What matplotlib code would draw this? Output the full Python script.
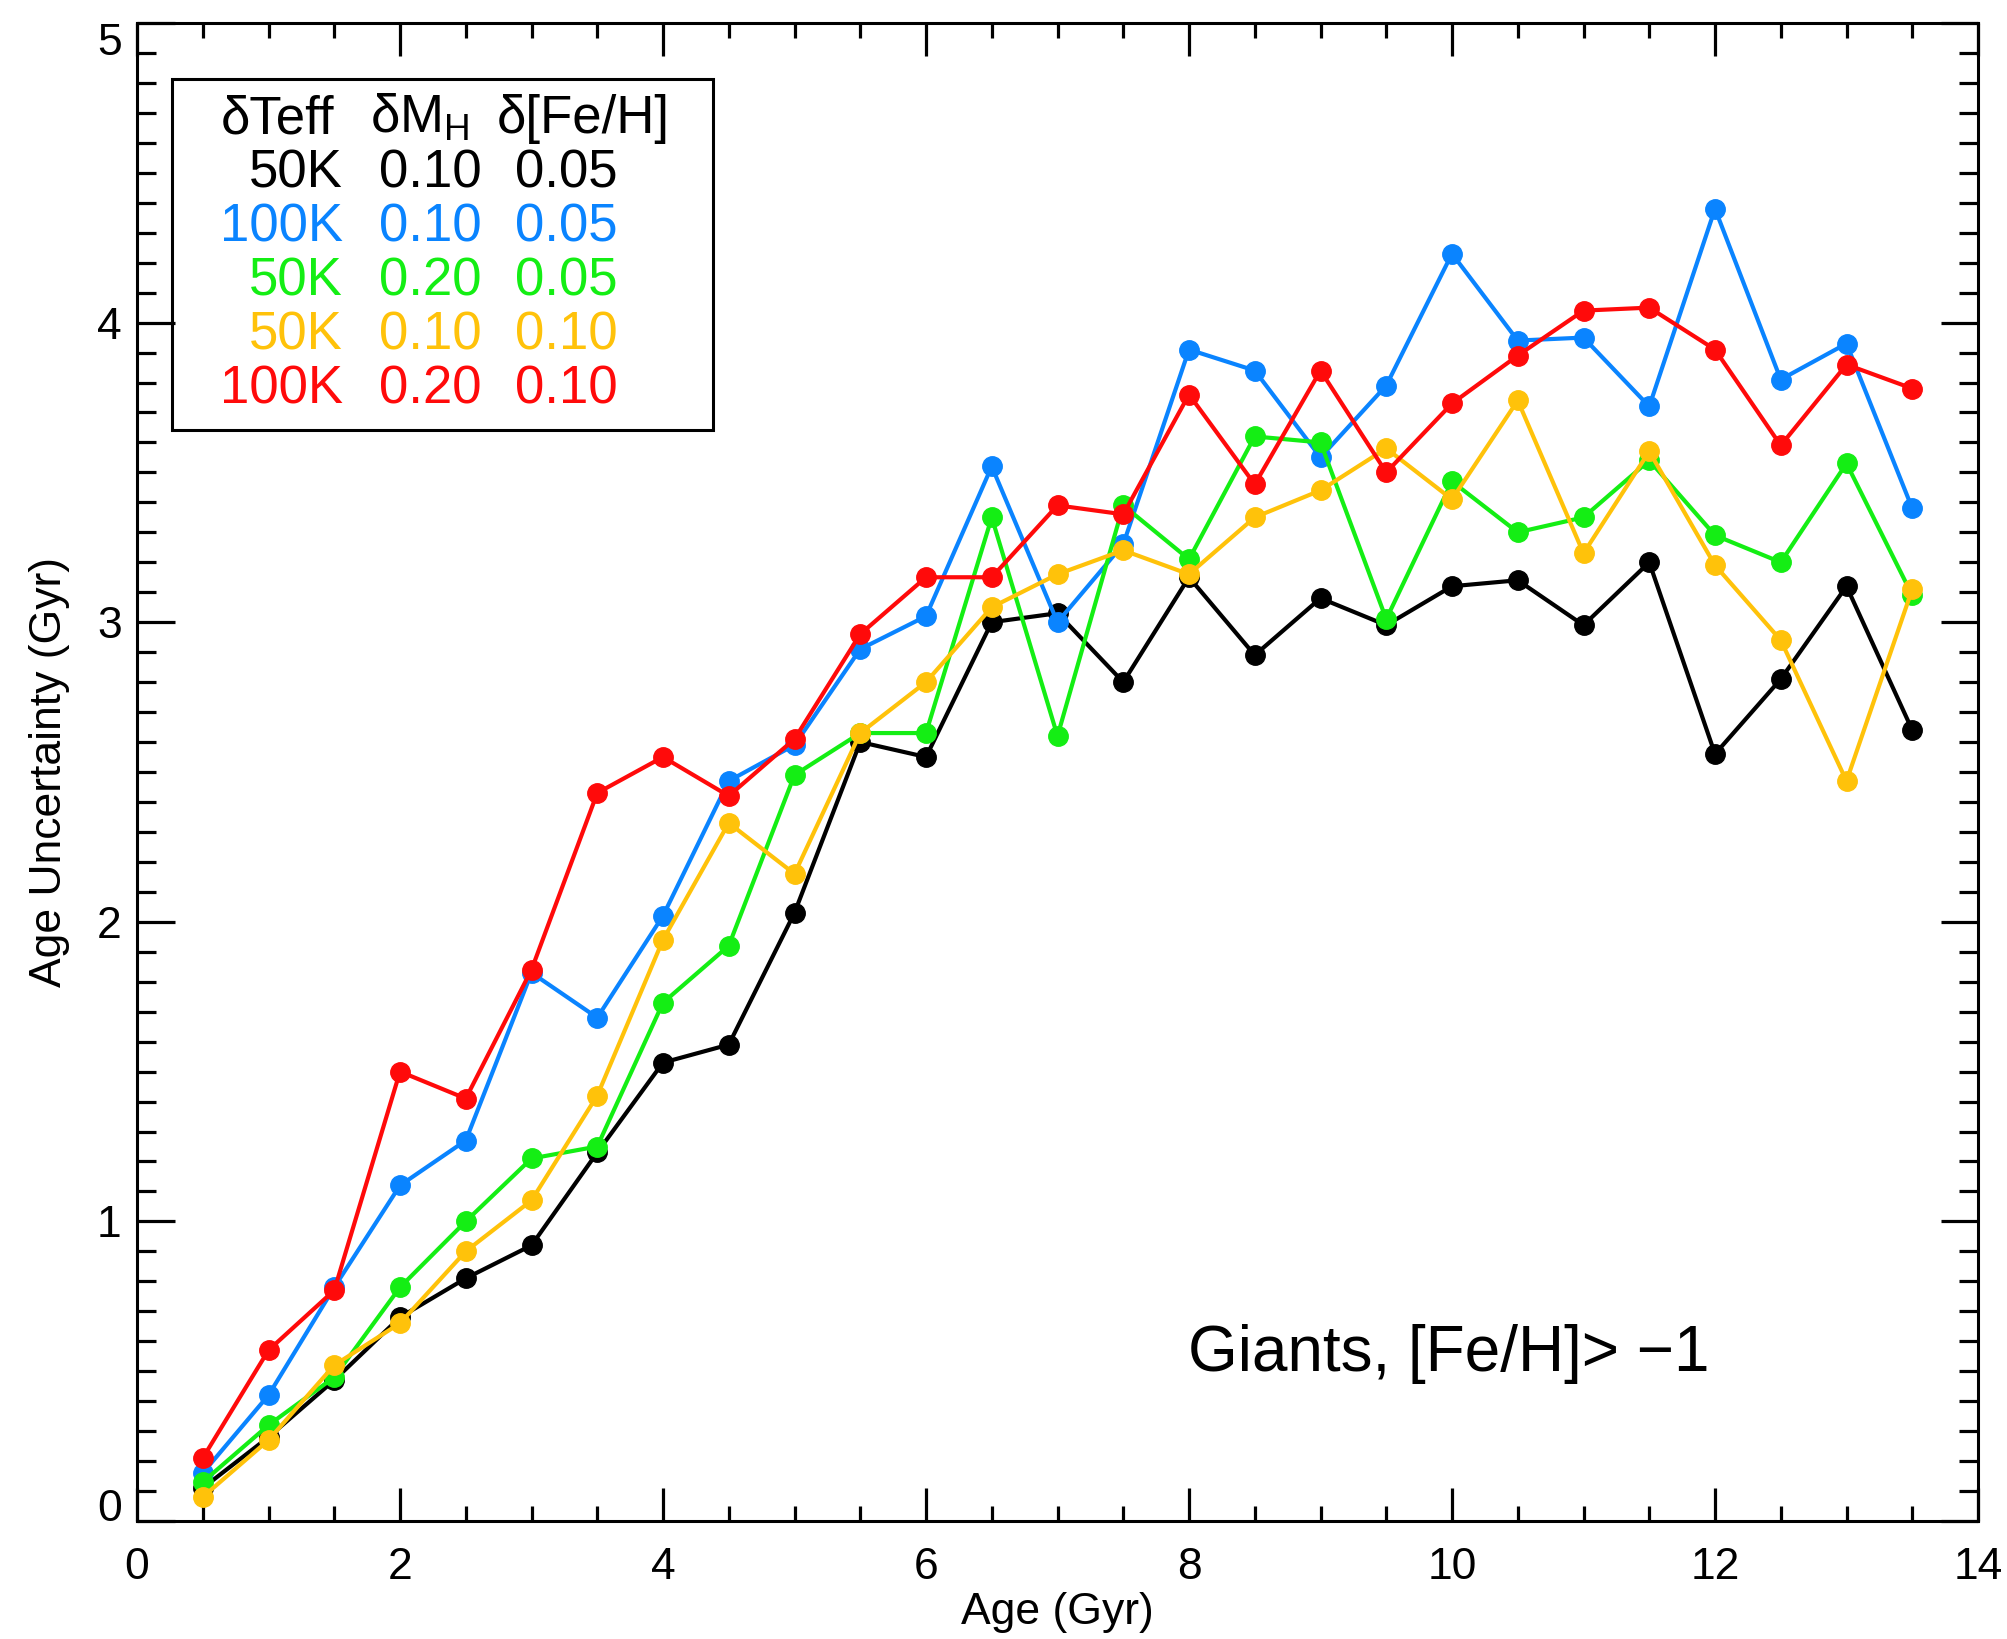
import matplotlib
matplotlib.use("Agg")
import matplotlib.pyplot as plt
from matplotlib.patches import Rectangle
from matplotlib.transforms import ScaledTranslation
import numpy as np

plt.rcParams['font.family'] = ['Liberation Sans', 'DejaVu Sans']
plt.rcParams['mathtext.fontset'] = 'custom'
plt.rcParams['mathtext.rm'] = 'Liberation Sans'
plt.rcParams['mathtext.it'] = 'Liberation Sans:italic'

# ---- data -------------------------------------------------------------
ages = [0.5, 1.0, 1.5, 2.0, 2.5, 3.0, 3.5, 4.0, 4.5, 5.0, 5.5, 6.0, 6.5,
        7.0, 7.5, 8.0, 8.5, 9.0, 9.5, 10.0, 10.5, 11.0, 11.5, 12.0, 12.5,
        13.0, 13.5]

sig_50_010_005 = [0.11, 0.28, 0.47, 0.68, 0.81, 0.92, 1.23, 1.53, 1.59, 2.03,
                  2.60, 2.55, 3.00, 3.03, 2.80, 3.15, 2.89, 3.08, 2.99, 3.12,
                  3.14, 2.99, 3.20, 2.56, 2.81, 3.12, 2.64]
sig_100_010_005 = [0.16, 0.42, 0.78, 1.12, 1.27, 1.83, 1.68, 2.02, 2.47, 2.59,
                   2.91, 3.02, 3.52, 3.00, 3.26, 3.91, 3.84, 3.55, 3.79, 4.23,
                   3.94, 3.95, 3.72, 4.38, 3.81, 3.93, 3.38]
sig_50_020_005 = [0.13, 0.32, 0.48, 0.78, 1.00, 1.21, 1.25, 1.73, 1.92, 2.49,
                  2.63, 2.63, 3.35, 2.62, 3.39, 3.21, 3.62, 3.60, 3.01, 3.47,
                  3.30, 3.35, 3.54, 3.29, 3.20, 3.53, 3.09]
sig_50_010_010 = [0.08, 0.27, 0.52, 0.66, 0.90, 1.07, 1.42, 1.94, 2.33, 2.16,
                  2.63, 2.80, 3.05, 3.16, 3.24, 3.16, 3.35, 3.44, 3.58, 3.41,
                  3.74, 3.23, 3.57, 3.19, 2.94, 2.47, 3.11]
sig_100_020_010 = [0.21, 0.57, 0.77, 1.50, 1.41, 1.84, 2.43, 2.55, 2.42, 2.61,
                   2.96, 3.15, 3.15, 3.39, 3.36, 3.76, 3.46, 3.84, 3.50, 3.73,
                   3.89, 4.04, 4.05, 3.91, 3.59, 3.86, 3.78]

d_teff = ['50K', '100K', '50K', '50K', '100K']
d_mh = ['0.10', '0.10', '0.20', '0.10', '0.20']
d_feh = ['0.05', '0.05', '0.05', '0.10', '0.10']

series = [sig_50_010_005, sig_100_010_005, sig_50_020_005,
          sig_50_010_010, sig_100_020_010]
colors = ['#000000', '#0A84FF', '#14EE14', '#FFC20A', '#FF0A0A']

x_ticks = [0, 2, 4, 6, 8, 10, 12, 14]
y_ticks = [0, 1, 2, 3, 4, 5]

# ---- figure -----------------------------------------------------------
W, H = 2007, 1639
fig = plt.figure(figsize=(W / 100, H / 100), dpi=100)
ax = fig.add_axes([137 / W, (H - 1521) / H, 1841 / W, 1498 / H])

for vals, col in zip(series, colors):
    ax.plot(ages, vals, '-o', color=col, lw=3.0, ms=14, mec=col, mfc=col,
            solid_joinstyle='miter', clip_on=False)

ax.set_xlim(0, 14)
ax.set_ylim(0, 5)
ax.set_xticks(x_ticks)
ax.set_yticks(y_ticks)
ax.set_xticks(np.arange(0, 14.01, 0.5), minor=True)
ax.set_yticks(np.arange(0, 5.001, 0.1), minor=True)

for s in ax.spines.values():
    s.set_linewidth(2.2)

ax.tick_params(axis='both', which='both', direction='in', top=True,
               right=True, width=2.3, color='black')
ax.tick_params(axis='x', which='major', length=24, pad=19)
ax.tick_params(axis='x', which='minor', length=11)
ax.tick_params(axis='y', which='major', length=27, pad=11)
ax.tick_params(axis='y', which='minor', length=13.5)

tick_font = ['Liberation Sans Narrow', 'Liberation Sans', 'DejaVu Sans']
for lab in ax.get_xticklabels() + ax.get_yticklabels():
    lab.set_family(tick_font)
    lab.set_fontsize(32)

# shift the end labels of the y axis inward
ylabs = ax.get_yticklabels()
ylabs[0].set_transform(ylabs[0].get_transform() +
                       ScaledTranslation(0, 16 / 100, fig.dpi_scale_trans))
ylabs[-1].set_transform(ylabs[-1].get_transform() +
                        ScaledTranslation(0, -16 / 100, fig.dpi_scale_trans))

ax.set_xlabel('Age (Gyr)', fontsize=32, va='center')
ax.xaxis.set_label_coords(0.5, -0.0614)
ax.set_ylabel('Age Uncertainty (Gyr)', fontsize=32, va='center')
ax.yaxis.set_label_coords(-0.0473, 0.5)


# ---- key box ----------------------------------------------------------
def fx(px):
    return (px - 137) / 1841


def fy(py):
    return (1521 - py) / 1498


ax.add_patch(Rectangle((fx(172), fy(430)), fx(713) - fx(172),
                       fy(79) - fy(430), transform=ax.transAxes,
                       fill=False, lw=2.2, ec='black', zorder=5))

key_fs = 38
ax.text(fx(221), fy(133), 'δTeff', transform=ax.transAxes, fontsize=key_fs,
        ha='left', va='baseline')
ax.text(fx(370), fy(133), r'δM$_{\mathrm{H}}$', transform=ax.transAxes,
        fontsize=key_fs, ha='left', va='baseline')
ax.text(fx(497), fy(133), 'δ[Fe/H]', transform=ax.transAxes, fontsize=key_fs,
        ha='left', va='baseline')

row_base = [188, 242, 296, 349, 403]
for i, col in enumerate(colors):
    yb = fy(row_base[i])
    ax.text(fx(343), yb, d_teff[i], transform=ax.transAxes, color=col,
            fontsize=key_fs, ha='right', va='baseline')
    ax.text(fx(379), yb, d_mh[i], transform=ax.transAxes, color=col,
            fontsize=key_fs, ha='left', va='baseline')
    ax.text(fx(515), yb, d_feh[i], transform=ax.transAxes, color=col,
            fontsize=key_fs, ha='left', va='baseline')

ax.text(fx(1188), fy(1371), 'Giants, [Fe/H]> \u22121', transform=ax.transAxes,
        fontsize=46, ha='left', va='baseline')

fig.savefig('out.png', dpi=100)
